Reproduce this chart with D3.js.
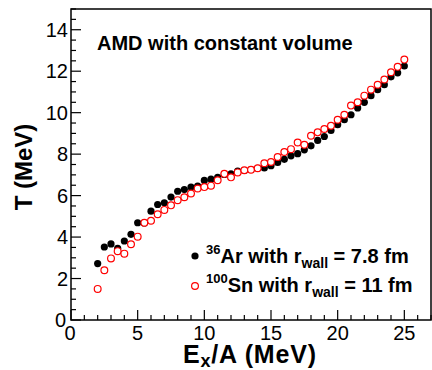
<!DOCTYPE html>
<html>
<head>
<meta charset="utf-8">
<script src="https://cdn.jsdelivr.net/npm/d3@7"></script>
<style>
  body { margin: 0; background: #fff; }
  svg { display: block; font-family: "Liberation Sans", Arial, Helvetica, sans-serif; }
</style>
</head>
<body>
<div id="container"></div>
<script>
// excitation energy per nucleon (MeV)
var exA = [2, 2.5, 3, 3.5, 4, 4.5, 5, 5.5, 6, 6.5, 7, 7.5, 8, 8.5, 9, 9.5, 10, 10.5,
  11, 11.5, 12, 12.5, 13, 13.5, 14, 14.5, 15, 15.5, 16, 16.5, 17, 17.5, 18, 18.5,
  19, 19.5, 20, 20.5, 21, 21.5, 22, 22.5, 23, 23.5, 24, 24.5, 25];

// temperature, 36Ar (filled black)
var tAr = [2.72, 3.52, 3.67, 3.46, 3.81, 4.13, 4.69, 4.68, 5.25, 5.57, 5.65, 5.93, 6.21, 6.29,
  6.41, 6.46, 6.73, 6.79, 6.88, 7.02, 7.05, 7.18, 7.21, 7.26, 7.32, 7.33, 7.44, 7.60,
  7.75, 7.92, 8.02, 8.21, 8.40, 8.66, 8.85, 9.14, 9.42, 9.66, 9.90, 10.23, 10.50, 10.82,
  11.11, 11.35, 11.73, 11.92, 12.25];

// temperature, 100Sn (open red)
var tSn = [1.50, 2.40, 2.97, 3.32, 3.20, 3.65, 4.02, 4.69, 4.79, 5.10, 5.31, 5.53, 5.78, 5.92,
  6.10, 6.34, 6.41, 6.48, 6.74, 7.05, 6.88, 7.12, 7.22, 7.25, 7.32, 7.56, 7.62, 7.86,
  8.10, 8.24, 8.56, 8.45, 8.89, 9.05, 9.21, 9.37, 9.66, 9.90, 10.34, 10.50, 10.82, 11.11,
  11.35, 11.60, 11.95, 12.21, 12.56];

var xTicks = [0, 5, 10, 15, 20, 25];
var yTicks = [0, 2, 4, 6, 8, 10, 12, 14];

var W = 432, H = 370;
var margin = {top: 9, right: 1, bottom: 50, left: 71};

var xScale = d3.scaleLinear().domain([0, 27]).range([margin.left, W - margin.right]);
var yScale = d3.scaleLinear().domain([0, 15]).range([H - margin.bottom, margin.top]);

var svg = d3.select("#container").append("svg")
  .attr("width", W).attr("height", H);

// frame
svg.append("rect")
  .attr("x", xScale(0)).attr("y", yScale(15))
  .attr("width", xScale(27) - xScale(0))
  .attr("height", yScale(0) - yScale(15))
  .attr("fill", "none").attr("stroke", "#000").attr("stroke-width", 1.5);

// x axis: major ticks every 5, minor every 1, pointing up
var xMinor = d3.range(0, 28, 1);
svg.append("g").selectAll("line").data(xMinor).enter().append("line")
  .attr("x1", function(d) { return xScale(d); })
  .attr("x2", function(d) { return xScale(d); })
  .attr("y1", yScale(0))
  .attr("y2", function(d) { return yScale(0) - (d % 5 === 0 ? 10 : 5); })
  .attr("stroke", "#000").attr("stroke-width", 1.2);

svg.append("g").selectAll("text").data(xTicks).enter().append("text")
  .attr("x", function(d) { return xScale(d) - (d === 0 ? 1 : 0); })
  .attr("y", yScale(0) + 20)
  .attr("text-anchor", "middle")
  .attr("font-size", 20)
  .text(function(d) { return d; });

// y axis: major every 2, minor every 0.5, pointing right
var yMinor = d3.range(0, 15.01, 0.5);
svg.append("g").selectAll("line").data(yMinor).enter().append("line")
  .attr("x1", xScale(0))
  .attr("x2", function(d) { return xScale(0) + (d % 2 === 0 ? 10 : 5); })
  .attr("y1", function(d) { return yScale(d); })
  .attr("y2", function(d) { return yScale(d); })
  .attr("stroke", "#000").attr("stroke-width", 1.2);

svg.append("g").selectAll("text").data(yTicks).enter().append("text")
  .attr("x", function(d) { return d === 0 ? xScale(0) - 5 : xScale(0) - 3; })
  .attr("y", function(d) { return yScale(d) + 7; })
  .attr("text-anchor", "end")
  .attr("font-size", 20)
  .text(function(d) { return d; });

// axis titles
var xt = svg.append("text")
  .attr("x", 183).attr("y", 363)
  .attr("font-size", 25).attr("font-weight", "bold")
  .attr("letter-spacing", 0.8);
xt.append("tspan").text("E");
xt.append("tspan").attr("font-size", 18).attr("dy", 4).text("x");
xt.append("tspan").attr("dy", -4).text("/A (MeV)");

svg.append("text")
  .attr("transform", "translate(32,167) rotate(-90)")
  .attr("text-anchor", "middle")
  .attr("font-size", 24).attr("font-weight", "bold")
  .text("T (MeV)");

// title
svg.append("text")
  .attr("x", 97).attr("y", 50)
  .attr("font-size", 20).attr("font-weight", "bold")
  .text("AMD with constant volume");

// data points
var ar = exA.map(function(d, i) { return {x: d, y: tAr[i]}; });
var sn = exA.map(function(d, i) { return {x: d, y: tSn[i]}; });

svg.append("g").selectAll("circle").data(ar).enter().append("circle")
  .attr("cx", function(d) { return xScale(d.x); })
  .attr("cy", function(d) { return yScale(d.y); })
  .attr("r", 3.6)
  .attr("fill", "#000");

svg.append("g").selectAll("circle").data(sn).enter().append("circle")
  .attr("cx", function(d) { return xScale(d.x); })
  .attr("cy", function(d) { return yScale(d.y); })
  .attr("r", 3.4)
  .attr("fill", "#fff")
  .attr("stroke", "#ff0000").attr("stroke-width", 1.2);

// legend
svg.append("circle").attr("cx", 195).attr("cy", 256).attr("r", 3.6).attr("fill", "#000");
svg.append("circle").attr("cx", 195).attr("cy", 286).attr("r", 3.4)
  .attr("fill", "#fff").attr("stroke", "#ff0000").attr("stroke-width", 1.2);

function legendText(y, sup, nucl, rw) {
  var t = svg.append("text").attr("x", 206).attr("y", y)
    .attr("font-size", 20).attr("font-weight", "bold");
  t.append("tspan").attr("font-size", 13).attr("dy", -9).text(sup);
  t.append("tspan").attr("dy", 9).text(nucl + " with r");
  t.append("tspan").attr("font-size", 14).attr("dy", 5).text("wall");
  t.append("tspan").attr("dy", -5).text(" = " + rw + " fm");
}
legendText(263, "36", "Ar", "7.8");
legendText(292, "100", "Sn", "11");
</script>
</body>
</html>
